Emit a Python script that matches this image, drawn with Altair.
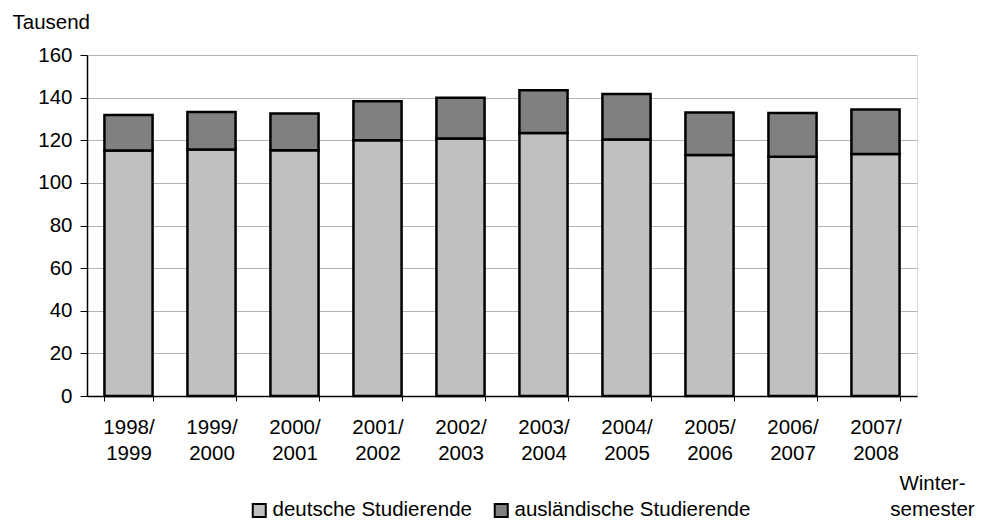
import altair as alt
import pandas as pd

semester = ["1998/1999", "1999/2000", "2000/2001", "2001/2002", "2002/2003",
            "2003/2004", "2004/2005", "2005/2006", "2006/2007", "2007/2008"]
deutsche = [115.2, 115.7, 115.3, 120.0, 120.8, 123.4, 120.3, 113.1, 112.2, 113.6]
auslaendische = [16.7, 17.6, 17.2, 18.3, 19.2, 20.1, 21.4, 19.9, 20.6, 20.8]
gruppen = ["deutsche Studierende", "ausländische Studierende"]
farben = ["#c0c0c0", "#808080"]
y_ticks = [0, 20, 40, 60, 80, 100, 120, 140, 160]

rows = []
for s, d, a in zip(semester, deutsche, auslaendische):
    rows.append({"Semester": s, "Gruppe": gruppen[0], "Wert": d, "Ordnung": 0})
    rows.append({"Semester": s, "Gruppe": gruppen[1], "Wert": a, "Ordnung": 1})
df = pd.DataFrame(rows)

FONT = "Liberation Sans"
FS = 20.5

chart = alt.Chart(df).mark_bar(stroke="black", strokeWidth=2.5).encode(
    x=alt.X(
        "Semester:N", sort=semester,
        scale=alt.Scale(paddingInner=0.42, paddingOuter=0.21),
        axis=alt.Axis(
            title=["Winter-", "semester"],
            titleX=845, titleY=93, titleAlign="center", titleBaseline="alphabetic",
            titleAngle=0, titleFontWeight="normal", titleFontSize=FS, titleLineHeight=26,
            titleColor="black", titleFont=FONT,
            labelAngle=0,
            labelExpr="[slice(datum.label, 0, 5), slice(datum.label, 5)]",
            labelFontSize=FS, labelFont=FONT, labelColor="black", labelLineHeight=26,
            labelPadding=16, labelBaseline="top",
            tickBand="extent", tickSize=5, tickColor="black", tickWidth=1,
            domainColor="black", domainWidth=1.5, grid=False,
        ),
    ),
    y=alt.Y(
        "Wert:Q", stack="zero",
        scale=alt.Scale(domain=[0, 160], nice=False),
        axis=alt.Axis(
            values=y_ticks, title="Tausend",
            titleAngle=0, titleAlign="left", titleBaseline="middle",
            titleX=-75, titleY=-33, titleFontWeight="normal", titleFontSize=FS,
            titleFont=FONT, titleColor="black",
            labelFontSize=FS, labelFont=FONT, labelColor="black", labelPadding=8,
            tickSize=7, tickColor="black", tickWidth=1,
            domainColor="black", domainWidth=1.5,
            grid=True, gridColor="#b4b4b4", gridWidth=1,
        ),
    ),
    color=alt.Color(
        "Gruppe:N", title=None,
        scale=alt.Scale(domain=gruppen, range=farben),
        legend=alt.Legend(
            orient="none", legendX=162, legendY=445, direction="horizontal",
            symbolType="square", symbolSize=169, symbolStrokeColor="black",
            symbolStrokeWidth=2, symbolOpacity=1,
            labelFontSize=FS, labelFont=FONT, labelColor="black", labelOffset=3,
            labelLimit=0, columnPadding=18, padding=0,
        ),
    ),
    order=alt.Order("Ordnung:Q"),
).properties(
    width=830, height=341,
    autosize=alt.AutoSizeParams(type="none"),
    padding={"left": 79, "top": 47, "right": 59, "bottom": 124},
).configure_view(
    stroke="#8c8c8c", strokeWidth=1.5
).configure(background="white")

chart.save("out.html", embed_options={"renderer": "svg", "actions": False})
